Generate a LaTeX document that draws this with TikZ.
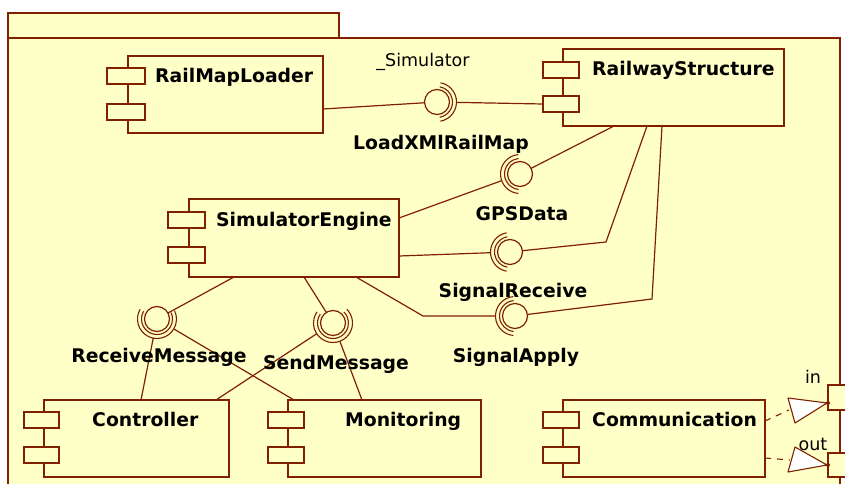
\documentclass[tikz,border=0pt]{standalone}
\usepackage{fontspec}
\newfontfamily\dvs{DejaVu Sans}
\definecolor{bg}{RGB}{255,255,200}
\definecolor{lc}{RGB}{128,32,0}
\newcommand\sock[3]{%
  \draw[arcln] ([shift={(#2:15.5pt)}]#1.center) arc[start angle=#2,end angle=#3,radius=15.5pt];
  \draw[arcln] ([shift={(#2:19.5pt)}]#1.center) arc[start angle=#2,end angle=#3,radius=19.5pt];}
\begin{document}
\begin{tikzpicture}[x=1pt,y=-1pt,
  ln/.style={draw=lc,line width=1.2pt},
  arcln/.style={draw=lc,line width=1.1pt},
  pkg/.style={draw=lc,fill=bg,line width=1.2pt},
  body/.style={draw=lc,fill=bg,line width=1.2pt,rectangle,inner sep=0pt,outer sep=0pt,anchor=north west},
  icon/.style={body,minimum height=16pt},
  ball/.style={circle,draw=lc,fill=bg,line width=1.2pt,minimum size=25pt,inner sep=0pt,outer sep=0pt},
  bl/.style={font=\dvs\bfseries\fontsize{18.8}{20}\selectfont,inner sep=0pt,anchor=base west},
  il/.style={bl,anchor=base},
  rl/.style={font=\dvs\fontsize{17.5}{19}\selectfont,inner sep=0pt,anchor=base},
  port/.style={body,minimum width=24pt},
  dsh/.style={draw=lc,line width=1.1pt,dash pattern=on 6pt off 6pt},
  tri/.style={draw=lc,fill=white,line width=1.1pt,line join=round},
]
\useasboundingbox (0,0) rectangle (845,484);
\fill[white] (0,0) rectangle (845,484);
% package
\draw[pkg] (8,13) rectangle (339,38);
\draw[pkg] (8,38) rectangle (840,495);

% components
\node[body,minimum width=195pt,minimum height=77pt] (rml) at (128,56) {};
\node[icon,minimum width=38pt] (rmlA) at (107,68) {};
\node[icon,minimum width=38pt] (rmlB) at (107,104) {};
\node[bl] (rmlT) at (155,83) {RailMapLoader};

\node[body,minimum width=221pt,minimum height=77pt] (rws) at (563,49) {};
\node[icon,minimum width=36pt] (rwsA) at (543,62) {};
\node[icon,minimum width=36pt] (rwsB) at (543,96) {};
\node[bl] (rwsT) at (592,76) {RailwayStructure};

\node[body,minimum width=210pt,minimum height=78pt] (sim) at (189,199) {};
\node[icon,minimum width=37pt] (simA) at (168,212) {};
\node[icon,minimum width=37pt] (simB) at (168,247) {};
\node[bl] (simT) at (216,226) {SimulatorEngine};

\node[body,minimum width=185pt,minimum height=77pt] (ctl) at (44,400) {};
\node[icon,minimum width=35pt] (ctlA) at (24,412) {};
\node[icon,minimum width=35pt] (ctlB) at (24,447) {};
\node[bl] (ctlT) at (92,426) {Controller};

\node[body,minimum width=193pt,minimum height=77pt] (mon) at (288,400) {};
\node[icon,minimum width=36pt] (monA) at (268,412) {};
\node[icon,minimum width=36pt] (monB) at (268,447) {};
\node[bl] (monT) at (345,426) {Monitoring};

\node[body,minimum width=202pt,minimum height=77pt] (com) at (563,400) {};
\node[icon,minimum width=36pt] (comA) at (543,412) {};
\node[icon,minimum width=36pt] (comB) at (543,447) {};
\node[bl] (comT) at (592,426) {Communication};

% interfaces
\node[ball] (iLoad) at (437,102) {};
\node[ball] (iGPS) at (520,174) {};
\node[ball] (iRecv) at (510,252) {};
\node[ball] (iApply) at (515,316) {};
\node[ball] (iRM) at (157,319) {};
\node[ball] (iSM) at (333,323) {};

\coordinate (bendR) at (606,242);
\coordinate (bendA1) at (423,316);
\coordinate (bendA2) at (652,299);

% connectors
\draw[ln] ([yshift=-14.5pt]rml.east) -- (iLoad);
\draw[ln,shorten <=7pt] (iLoad) -- (rwsB.west);

\draw[ln,shorten >=7pt] ([yshift=20pt]sim.east) -- (iGPS);
\draw[ln] ([xshift=-59.5pt]rws.south) -- (iGPS);

\draw[ln,shorten >=7pt] ([yshift=-18pt]sim.east) -- (iRecv);
\draw[ln] (iRecv) -- (bendR) -- ([xshift=-26.5pt]rws.south);

\draw[ln,shorten >=7pt] ([xshift=62pt]sim.south) -- (bendA1) -- (iApply);
\draw[ln] (iApply) -- (bendA2) -- ([xshift=-11.5pt]rws.south);

\draw[ln] ([xshift=-60pt]sim.south) -- (iRM);
\draw[ln,shorten >=7pt] ([xshift=4.5pt]ctl.north) -- (iRM);
\draw[ln,shorten >=7pt] ([xshift=-90.5pt]mon.north) -- (iRM);

\draw[ln] ([xshift=10pt]sim.south) -- (iSM);
\draw[ln,shorten >=7pt] ([xshift=79.5pt]ctl.north) -- (iSM);
\draw[ln,shorten >=7pt] ([xshift=-22.5pt]mon.north) -- (iSM);

% sockets
\sock{iLoad}{-80}{80}
\sock{iGPS}{95}{265}
\sock{iRecv}{100}{260}
\sock{iApply}{95}{265}
\sock{iRM}{150}{385}
\sock{iSM}{145}{405}

% interface labels
\node[rl] (lSim) at (423,67) {\_Simulator};
\node[il] (lLoad) at (441,149) {LoadXMlRailMap};
\node[il] (lGPS) at (522,220) {GPSData};
\node[il] (lRecv) at (513,297) {SignalReceive};
\node[il] (lApply) at (516,362) {SignalApply};
\node[il] (lRM) at (159,362) {ReceiveMessage};
\node[il] (lSM) at (336,369) {SendMessage};

% ports
\node[port,minimum height=25pt] (pin) at (828,385) {};
\node[port,minimum height=24pt] (pout) at (828,453) {};
\coordinate (tin) at (789,410);
\coordinate (tout) at (790,460);
\draw[dsh] ([yshift=17.5pt]com.east) -- (tin);
\draw[dsh] ([yshift=-19.5pt]com.east) -- (tout);
\draw[tri] (788,398) -- (827,403) -- (795,423) -- cycle;
\draw[tri] (795,447) -- (827,465) -- (788,472) -- cycle;
\fill[lc] (pin.west |- 0,403) circle (2pt);
\fill[lc] (pout.west |- 0,465) circle (2pt);
\node[rl] (lin) at (813,383) {in};
\node[rl] (lout) at (813,450) {out};
\end{tikzpicture}
\end{document}
